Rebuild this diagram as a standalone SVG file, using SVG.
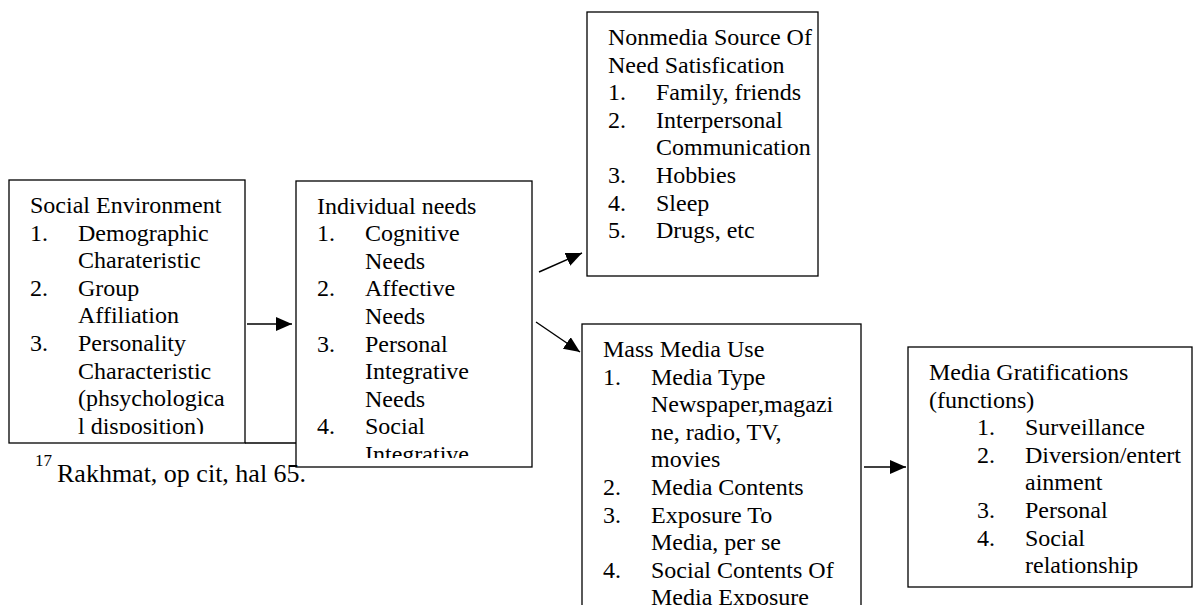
<svg xmlns="http://www.w3.org/2000/svg" width="1203" height="605" viewBox="0 0 1203 605">
<style>
.box{fill:#fff;stroke:#000;stroke-width:1.3}
text{font-family:"Liberation Serif","Times New Roman",serif;font-size:24px;fill:#000}
.fn{font-size:26px}
.sup{font-size:17px}
.edge{stroke:#000;stroke-width:1.4;fill:none}
</style>
<defs>
<marker id="ah" markerUnits="userSpaceOnUse" markerWidth="18" markerHeight="16" refX="16" refY="7" orient="auto"><path d="M0,0 L16,7 L0,14 Z" fill="#000"/></marker>
<clipPath id="c1"><rect x="9" y="180" width="236" height="254"/></clipPath>
<clipPath id="c2"><rect x="296" y="181" width="236" height="277"/></clipPath>
<clipPath id="c3"><rect x="587" y="12" width="231" height="255"/></clipPath>
<clipPath id="c4"><rect x="582" y="324" width="279" height="290"/></clipPath>
<clipPath id="c5"><rect x="908" y="347" width="284" height="231"/></clipPath>
</defs>

<g id="social-environment">
<rect class="box" x="9" y="180" width="236" height="263"/>
<g clip-path="url(#c1)">
<text x="30" y="213">Social Environment</text>
<text x="30" y="240.6">1.</text><text x="78" y="240.6">Demographic</text>
<text x="78" y="268.2">Charateristic</text>
<text x="30" y="295.8">2.</text><text x="78" y="295.8">Group</text>
<text x="78" y="323.4">Affiliation</text>
<text x="30" y="351">3.</text><text x="78" y="351">Personality</text>
<text x="78" y="378.6">Characteristic</text>
<text x="78" y="406.2">(phsychologica</text>
<text x="78" y="433.8">l disposition)</text>
</g>
</g>

<g id="individual-needs">
<rect class="box" x="296" y="181" width="236" height="286"/>
<g clip-path="url(#c2)">
<text x="317" y="213.5">Individual needs</text>
<text x="317" y="241.1">1.</text><text x="365" y="241.1">Cognitive</text>
<text x="365" y="268.7">Needs</text>
<text x="317" y="296.3">2.</text><text x="365" y="296.3">Affective</text>
<text x="365" y="323.9">Needs</text>
<text x="317" y="351.5">3.</text><text x="365" y="351.5">Personal</text>
<text x="365" y="379.1">Integrative</text>
<text x="365" y="406.7">Needs</text>
<text x="317" y="434.3">4.</text><text x="365" y="434.3">Social</text>
<text x="365" y="461.9">Integrative</text>
</g>
</g>

<g id="nonmedia-source">
<rect class="box" x="587" y="12" width="231" height="264"/>
<g clip-path="url(#c3)">
<text x="608" y="45">Nonmedia Source Of</text>
<text x="608" y="72.6">Need Satisfication</text>
<text x="608" y="100.2">1.</text><text x="656" y="100.2">Family, friends</text>
<text x="608" y="127.8">2.</text><text x="656" y="127.8">Interpersonal</text>
<text x="656" y="155.4">Communication</text>
<text x="608" y="183">3.</text><text x="656" y="183">Hobbies</text>
<text x="608" y="210.6">4.</text><text x="656" y="210.6">Sleep</text>
<text x="608" y="238.2">5.</text><text x="656" y="238.2">Drugs, etc</text>
</g>
</g>

<g id="mass-media-use">
<rect class="box" x="582" y="324" width="279" height="300"/>
<g clip-path="url(#c4)">
<text x="603" y="357">Mass Media Use</text>
<text x="603" y="384.6">1.</text><text x="651" y="384.6">Media Type</text>
<text x="651" y="412.2">Newspaper,magazi</text>
<text x="651" y="439.8">ne, radio, TV,</text>
<text x="651" y="467.4">movies</text>
<text x="603" y="495">2.</text><text x="651" y="495">Media Contents</text>
<text x="603" y="522.6">3.</text><text x="651" y="522.6">Exposure To</text>
<text x="651" y="550.2">Media, per se</text>
<text x="603" y="577.8">4.</text><text x="651" y="577.8">Social Contents Of</text>
<text x="651" y="605.4">Media Exposure</text>
</g>
</g>

<g id="media-gratifications">
<rect class="box" x="908" y="347" width="284" height="240"/>
<g clip-path="url(#c5)">
<text x="929" y="380">Media Gratifications</text>
<text x="929" y="407.6">(functions)</text>
<text x="977" y="435.2">1.</text><text x="1025" y="435.2">Surveillance</text>
<text x="977" y="462.8">2.</text><text x="1025" y="462.8">Diversion/entert</text>
<text x="1025" y="490.4">ainment</text>
<text x="977" y="518">3.</text><text x="1025" y="518">Personal</text>
<text x="977" y="545.6">4.</text><text x="1025" y="545.6">Social</text>
<text x="1025" y="573.2">relationship</text>
</g>
</g>

<g id="connectors">
<path class="edge" d="M245,443 L296,443"/>
<path class="edge" d="M247,324 L292,324" marker-end="url(#ah)"/>
<path class="edge" d="M539,272 L582,253" marker-end="url(#ah)"/>
<path class="edge" d="M536,322 L580,352" marker-end="url(#ah)"/>
<path class="edge" d="M864,467 L906,467" marker-end="url(#ah)"/>
</g>

<g id="footnote">
<text class="sup" x="35" y="466">17</text>
<text class="fn" x="57" y="482">Rakhmat, op cit, hal 65.</text>
</g>
</svg>
